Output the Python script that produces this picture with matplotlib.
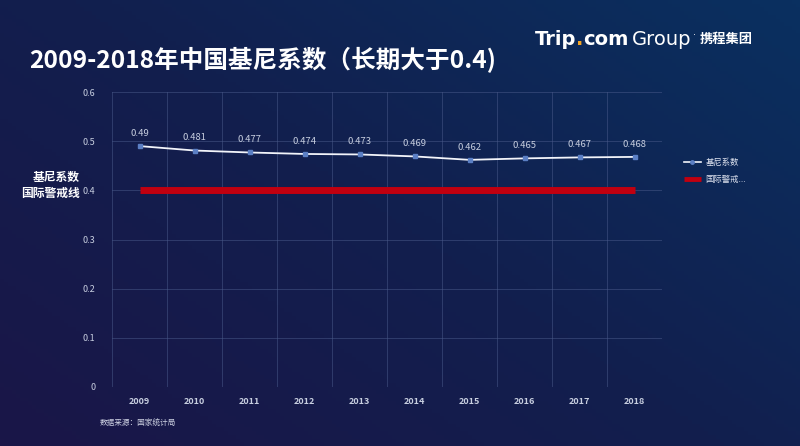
import matplotlib.pyplot as plt
import numpy as np
from matplotlib.colors import LinearSegmentedColormap

plt.rcParams['font.family'] = ['Noto Sans CJK SC', 'DejaVu Sans']

# data
years = ['2009', '2010', '2011', '2012', '2013', '2014', '2015', '2016', '2017', '2018']
gini = [0.49, 0.481, 0.477, 0.474, 0.473, 0.469, 0.462, 0.465, 0.467, 0.468]
warning = [0.4] * len(years)
y_ticks = [0, 0.1, 0.2, 0.3, 0.4, 0.5, 0.6]
y_tick_labels = ['0', '0.1', '0.2', '0.3', '0.4', '0.5', '0.6']

fig = plt.figure(figsize=(8, 4.46), dpi=100)

# dark blue gradient background
bg = fig.add_axes([0, 0, 1, 1], zorder=-10)
xx, yy = np.meshgrid(np.linspace(0, 1, 200), np.linspace(0, 1, 120))
t = np.clip(0.55 * xx + 0.45 * (1 - yy), 0, 1)
cmap = LinearSegmentedColormap.from_list('bg', ['#1a1648', '#121f4e', '#0a3060'])
bg.imshow(t, cmap=cmap, aspect='auto', extent=[0, 1, 0, 1], origin='upper')
bg.axis('off')

ax = fig.add_axes([0.14, 0.1323, 0.6875, 0.6614])
ax.set_facecolor('none')
x = np.arange(len(years))

ax.plot(x, warning, color='#c00010', linewidth=5, solid_capstyle='butt', zorder=3)
ax.plot(x, gini, color='#f2f4fa', linewidth=1.3, marker='s', markersize=3,
        markerfacecolor='#5b7fc4', markeredgecolor='#5b7fc4', zorder=4)

for xi, v in zip(x, gini):
    ax.annotate(f'{v:g}', (xi, v), xytext=(0, 6), textcoords='offset points',
                ha='center', va='bottom', fontsize=6.8, color='#c8cfe0')

ax.set_xlim(-0.5, len(years) - 0.5)
ax.set_ylim(0, 0.6)
ax.set_yticks(y_ticks)
ax.set_yticklabels(y_tick_labels)
ax.set_xticks(x)
ax.set_xticklabels(years, fontweight='bold')
ax.set_xticks(np.arange(-0.5, len(years)), minor=True)
ax.grid(True, axis='y', color='#4a5a8a', linewidth=0.6, alpha=0.6)
ax.grid(True, axis='x', which='minor', color='#4a5a8a', linewidth=0.6, alpha=0.6)
ax.tick_params(axis='both', which='both', length=0, colors='#c8cfe0', labelsize=6.5)
ax.tick_params(axis='y', pad=12)
ax.tick_params(axis='x', pad=7)
for s in ax.spines.values():
    s.set_visible(False)

# legend drawn by hand
fig.lines.append(plt.Line2D([0.855, 0.876], [0.636, 0.636], color='#f2f4fa', linewidth=1.2,
                            transform=fig.transFigure))
fig.lines.append(plt.Line2D([0.865], [0.636], marker='o', markersize=2.5, color='#5b7fc4',
                            transform=fig.transFigure))
fig.text(0.882, 0.636, '基尼系数', color='#e0e4f0', fontsize=6, va='center')
fig.lines.append(plt.Line2D([0.855, 0.876], [0.598, 0.598], color='#c00010', linewidth=3.5,
                            solid_capstyle='butt', transform=fig.transFigure))
fig.text(0.882, 0.598, '国际警戒...', color='#e0e4f0', fontsize=6, va='center')

# left axis labels
fig.text(0.1, 0.603, '基尼系数', color='white', fontsize=8.5, fontweight='bold', ha='right', va='center')
fig.text(0.1, 0.566, '国际警戒线', color='white', fontsize=8.5, fontweight='bold', ha='right', va='center')

# title
fig.text(0.037, 0.866, '2009-2018年中国基尼系数（长期大于0.4)', color='white', fontsize=17.7,
         fontweight='bold', va='center')

# logo: pieces placed one after another
renderer = fig.canvas.get_renderer()
logo_parts = [('Trip', 'white', 'bold', 'DejaVu Sans Condensed', 14, 0.0),
              ('.', '#f5a623', 'bold', 'DejaVu Sans Condensed', 14, 0.0),
              ('com', 'white', 'bold', 'DejaVu Sans Condensed', 14, 0.004),
              ('Group', 'white', 'normal', 'DejaVu Sans Condensed', 14, 0.001),
              ('˙', 'white', 'normal', 'DejaVu Sans', 7, 0.004),
              ('携程集团', 'white', 'bold', 'Noto Sans CJK SC', 9.5, 0.0)]
xpos = 0.668
for txt, col, wt, fam, fs, gap in logo_parts:
    tt = fig.text(xpos, 0.912, txt, color=col, fontsize=fs, fontweight=wt, family=fam,
                  va='center')
    bb = tt.get_window_extent(renderer)
    xpos += bb.width / fig.bbox.width + gap

fig.text(0.125, 0.05, '数据来源：国家统计局', color='#d0d4e4', fontsize=5.5, va='center')

fig.savefig('out.png', dpi=100)
